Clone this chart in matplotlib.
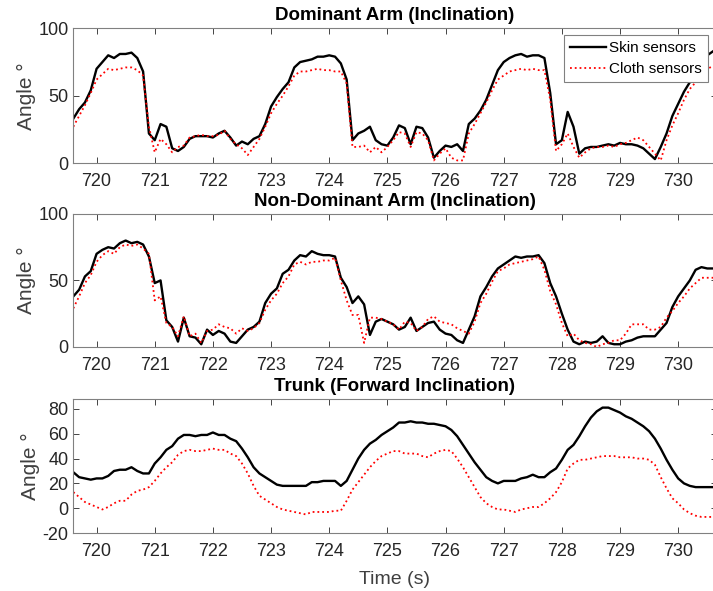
import numpy as np
import matplotlib
matplotlib.use('Agg')
import matplotlib.pyplot as plt

plt.rcParams['font.family'] = ['Liberation Sans', 'DejaVu Sans']
plt.rcParams['axes.unicode_minus'] = False

# sample times (0.1 s)
t = np.round(np.arange(719.6, 730.65, 0.1), 1)

# Dominant arm
dom_skin = [33, 40, 45, 54, 70, 75, 80, 78, 81, 81,
            82, 78, 68, 22, 17, 29, 27, 11, 9, 12,
            18, 20, 20, 20, 19, 22, 24, 19, 13, 16,
            14, 18, 20, 29, 42, 49, 55, 60, 71, 75,
            76, 77, 79, 79, 80, 79, 74, 62, 17, 22,
            24, 27, 17, 14, 13, 19, 28, 26, 14, 27,
            26, 19, 4, 9, 13, 12, 14, 9, 29, 33,
            39, 47, 58, 69, 75, 78, 80, 81, 79, 80,
            80, 78, 52, 14, 17, 38, 27, 7, 11, 12,
            12, 13, 14, 13, 15, 14, 14, 13, 11, 7,
            3, 12, 22, 35, 44, 53, 60, 68, 74, 80,
            83]
dom_cloth = [27, 35, 43, 52, 62, 66, 70, 69, 70, 71,
             71, 69, 65, 27, 8, 18, 14, 8, 12, 13,
             19, 20, 21, 20, 20, 21, 24, 18, 14, 11,
             6, 12, 18, 27, 37, 44, 50, 57, 65, 68,
             68, 69, 70, 69, 69, 68, 68, 59, 12, 12,
             13, 8, 12, 8, 12, 17, 23, 22, 12, 23,
             22, 17, 2, 7, 11, 4, 2, 2, 22, 29,
             37, 45, 54, 62, 65, 68, 69, 70, 69, 70,
             69, 69, 47, 9, 14, 22, 12, 4, 8, 11,
             12, 12, 13, 12, 14, 15, 17, 19, 17, 12,
             7, 2, 17, 28, 37, 47, 55, 60, 66, 70,
             72]

# Non-dominant arm
nondom_skin = [38, 43, 53, 57, 70, 73, 75, 74, 78, 80,
               78, 79, 77, 68, 48, 50, 20, 15, 4, 22,
               8, 7, 2, 13, 9, 12, 10, 4, 3, 8,
               13, 15, 19, 33, 40, 44, 55, 58, 65, 69,
               68, 72, 70, 69, 69, 68, 52, 45, 33, 38,
               32, 9, 19, 21, 19, 17, 13, 15, 22, 12,
               15, 18, 19, 13, 10, 9, 5, 3, 13, 23,
               38, 45, 53, 59, 62, 65, 68, 67, 68, 68,
               69, 63, 48, 38, 25, 13, 4, 2, 4, 3,
               4, 8, 3, 2, 2, 4, 5, 7, 8, 8,
               8, 13, 18, 30, 38, 44, 50, 58, 60, 59,
               59]
nondom_cloth = [29, 38, 48, 54, 64, 69, 72, 70, 75, 77,
                76, 77, 74, 70, 35, 38, 18, 15, 8, 23,
                8, 10, 3, 12, 13, 17, 15, 14, 10, 14,
                12, 14, 18, 28, 35, 40, 48, 53, 62, 64,
                62, 64, 64, 65, 65, 67, 50, 35, 24, 24,
                3, 22, 22, 21, 19, 17, 13, 19, 18, 12,
                15, 21, 23, 19, 18, 17, 14, 12, 10, 19,
                33, 40, 49, 57, 59, 62, 63, 64, 65, 66,
                68, 58, 42, 32, 18, 8, 10, 5, 3, 2,
                0, 2, 3, 5, 5, 10, 17, 17, 17, 13,
                13, 15, 22, 27, 33, 38, 44, 48, 52, 52,
                52]

# Trunk
trunk_skin = [29, 25, 24, 23, 24, 24, 26, 30, 31, 31,
              33, 30, 28, 28, 36, 41, 47, 50, 56, 59,
              59, 58, 59, 59, 61, 59, 59, 56, 54, 48,
              41, 33, 28, 25, 22, 19, 18, 18, 18, 18,
              18, 21, 21, 22, 22, 22, 18, 22, 31, 40,
              47, 52, 55, 59, 62, 65, 69, 69, 70, 69,
              69, 68, 68, 67, 66, 63, 58, 51, 44, 37,
              31, 25, 22, 20, 22, 22, 22, 24, 25, 27,
              25, 25, 29, 32, 39, 47, 51, 58, 66, 73,
              78, 81, 81, 79, 77, 74, 72, 69, 66, 62,
              56, 48, 39, 31, 24, 20, 18, 17, 17, 17,
              17]
trunk_cloth = [13, 9, 5, 3, 1, -1, 1, 4, 6, 6,
               11, 14, 15, 17, 22, 28, 33, 37, 43, 46,
               47, 46, 46, 47, 48, 47, 47, 44, 42, 36,
               28, 18, 10, 7, 4, 1, -1, -2, -3, -4,
               -5, -3, -3, -3, -3, -2, -2, 6, 15, 21,
               27, 33, 38, 42, 44, 46, 46, 44, 44, 44,
               42, 41, 44, 46, 47, 46, 40, 33, 25, 17,
               9, 4, 1, -1, -1, -2, -3, -1, 0, 1,
               1, 4, 8, 13, 21, 32, 36, 39, 39, 40,
               41, 42, 42, 42, 41, 41, 41, 40, 40, 39,
               35, 25, 16, 8, 4, -1, -4, -6, -7, -7,
               -7]

titles = ['Dominant Arm (Inclination)', 'Non-Dominant Arm (Inclination)',
          'Trunk (Forward Inclination)']
xticks = list(range(720, 731))

fig = plt.figure(figsize=(7.13, 5.91), dpi=100)
boxes = [[0.102, 0.724, 0.903, 0.228],
         [0.102, 0.413, 0.903, 0.225],
         [0.102, 0.098, 0.903, 0.227]]
series = [(dom_skin, dom_cloth), (nondom_skin, nondom_cloth), (trunk_skin, trunk_cloth)]
ylims = [(0, 100), (0, 100), (-20, 88)]
yticks = [[0, 50, 100], [0, 50, 100], [-20, 0, 20, 40, 60, 80]]

for i, (box, (skin, cloth)) in enumerate(zip(boxes, series)):
    ax = fig.add_axes(box)
    ax.plot(t, skin, color='black', lw=1.7, label='Skin sensors')
    ax.plot(t, cloth, color='red', lw=1.3, ls=':', label='Cloth sensors')
    ax.set_xlim(719.59, 730.66)
    ax.set_ylim(*ylims[i])
    ax.set_xticks(xticks)
    ax.set_yticks(yticks[i])
    ax.tick_params(direction='in', top=True, right=True, labelsize=13,
                   colors='#262626', length=4, width=0.6)
    ax.tick_params(axis='x', pad=7)
    ax.tick_params(axis='y', pad=3)
    for s in ax.spines.values():
        s.set_color('#808080')
        s.set_linewidth(0.8)
    ax.set_title(titles[i], fontsize=13.5, fontweight='bold', pad=6)
    ax.set_ylabel('Angle °', fontsize=15, color='#404040', labelpad=2)
    if i == 0:
        leg = ax.legend(loc='upper right', bbox_to_anchor=(0.987, 0.948), fontsize=11,
                        fancybox=False, framealpha=1, handlelength=2.3,
                        borderpad=0.4, labelspacing=0.45, handletextpad=0.25,
                        borderaxespad=0)
        leg.get_frame().set_edgecolor('#808080')
        leg.get_frame().set_linewidth(0.8)
    if i == 2:
        ax.set_xlabel('Time (s)', fontsize=14, color='#404040', labelpad=8)

fig.savefig('out.png', dpi=100)
